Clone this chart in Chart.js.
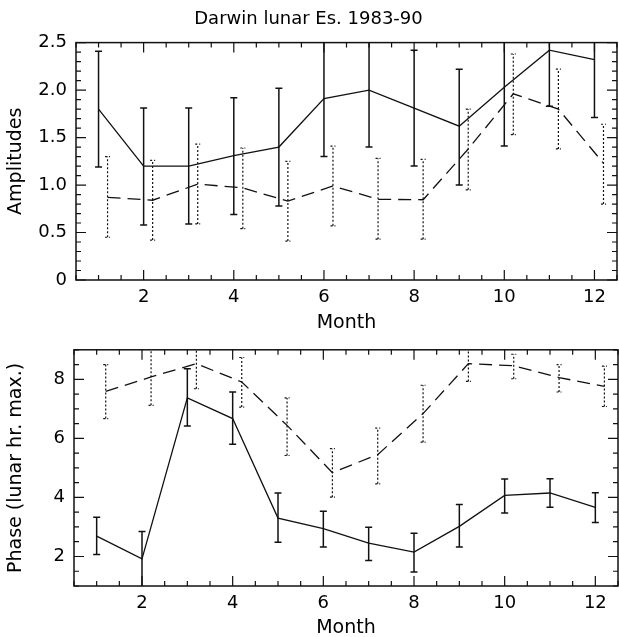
<!DOCTYPE html>
<html>
<head>
<meta charset="utf-8">
<script src="https://cdn.jsdelivr.net/npm/chart.js@4.4.1/dist/chart.umd.min.js"></script>
<style>
  body { margin: 0; background: #fff; }
  #wrap { position: relative; width: 619px; height: 637px; overflow: hidden; }
  #cAmp { position: absolute; left: 0; top: 0; }
  #cPhase { position: absolute; left: 0; top: 330px; }
</style>
</head>
<body>
<div id="wrap">
  <canvas id="cAmp" width="619" height="334"></canvas>
  <canvas id="cPhase" width="619" height="309"></canvas>
</div>
<script>
// meses (a serie tracejada fica deslocada 0.2 para a direita)
const months = [1, 2, 3, 4, 5, 6, 7, 8, 9, 10, 11, 12];
const monthsShift = [1.2, 2.2, 3.2, 4.2, 5.2, 6.2, 7.2, 8.2, 9.2, 10.2, 11.2, 12.2];

const xTickVals = [2, 4, 6, 8, 10, 12];
const xTickLabels = ['2', '4', '6', '8', '10', '12'];

// Amplitudes - linha cheia
const ampSolid   = [1.80, 1.20, 1.20, 1.31, 1.40, 1.91, 2.00, 1.81, 1.62, 2.03, 2.42, 2.32];
const ampSolidLo = [1.19, 0.58, 0.59, 0.69, 0.78, 1.30, 1.40, 1.20, 1.00, 1.41, 1.83, 1.71];
const ampSolidHi = [2.41, 1.81, 1.81, 1.92, 2.02, 2.52, 2.61, 2.42, 2.22, 2.64, 3.02, 2.93];

// Amplitudes - linha tracejada
const ampDash   = [0.87, 0.84, 1.01, 0.97, 0.83, 0.99, 0.85, 0.845, 1.38, 1.96, 1.80, 1.23];
const ampDashLo = [0.45, 0.42, 0.59, 0.54, 0.41, 0.57, 0.43, 0.43, 0.95, 1.53, 1.38, 0.80];
const ampDashHi = [1.30, 1.26, 1.43, 1.39, 1.25, 1.41, 1.28, 1.27, 1.80, 2.38, 2.22, 1.64];

const ampTickVals = [0, 0.5, 1.0, 1.5, 2.0, 2.5];
const ampTickLabels = ['0', '0.5', '1.0', '1.5', '2.0', '2.5'];

// Fase - linha cheia
const phaseSolid   = [2.69, 1.92, 7.37, 6.67, 3.30, 2.94, 2.45, 2.15, 3.02, 4.07, 4.15, 3.66];
const phaseSolidLo = [2.07, 0.95, 6.42, 5.80, 2.48, 2.32, 1.86, 1.47, 2.32, 3.47, 3.67, 3.15];
const phaseSolidHi = [3.33, 2.85, 8.36, 7.57, 4.15, 3.53, 2.99, 2.79, 3.76, 4.62, 4.63, 4.16];

// Fase - linha tracejada
const phaseDash   = [7.59, 8.08, 8.53, 7.91, 6.44, 4.84, 5.45, 6.84, 8.53, 8.46, 8.06, 7.76];
const phaseDashLo = [6.67, 7.12, 7.68, 7.06, 5.42, 4.01, 4.46, 5.87, 7.93, 8.02, 7.57, 7.08];
const phaseDashHi = [8.50, 9.04, 9.38, 8.74, 7.37, 5.65, 6.35, 7.80, 9.13, 8.85, 8.50, 8.45];

const phaseTickVals = [2, 4, 6, 8];
const phaseTickLabels = ['2', '4', '6', '8'];

Chart.defaults.font.family = "'DejaVu Sans', sans-serif";
Chart.defaults.color = '#000';

const INK = '#111';

function pontos(xs, ys) {
    return xs.map((x, i) => ({ x: x, y: ys[i] }));
}

// barras de erro desenhadas pelas escalas do grafico
const errorBarsPlugin = {
    id: 'errorBars',
    afterDatasetsDraw(chart) {
        const ctx = chart.ctx;
        const area = chart.chartArea;
        const xs = chart.scales.x;
        const ys = chart.scales.y;
        ctx.save();
        ctx.beginPath();
        ctx.rect(area.left, area.top, area.right - area.left, area.bottom - area.top);
        ctx.clip();
        chart.data.datasets.forEach(ds => {
            const dotted = ds.barStyle == 'dotted';
            ctx.strokeStyle = INK;
            ctx.lineWidth = dotted ? 1.2 : 1.5;
            ctx.setLineDash(dotted ? [2, 2] : []);
            const cap = dotted ? 2.5 : 3.5;
            ds.data.forEach((p, i) => {
                const px = xs.getPixelForValue(p.x);
                const yLo = ys.getPixelForValue(ds.lo[i]);
                const yHi = ys.getPixelForValue(ds.hi[i]);
                ctx.beginPath();
                ctx.moveTo(px, yLo);
                ctx.lineTo(px, yHi);
                ctx.moveTo(px - cap, yLo);
                ctx.lineTo(px + cap, yLo);
                ctx.moveTo(px - cap, yHi);
                ctx.lineTo(px + cap, yHi);
                ctx.stroke();
            });
        });
        ctx.restore();
    }
};

// moldura e ticks para dentro (estilo IDL)
const frameTicksPlugin = {
    id: 'frameTicks',
    afterDraw(chart, args, opts) {
        const ctx = chart.ctx;
        const a = chart.chartArea;
        const xs = chart.scales.x;
        const ys = chart.scales.y;
        ctx.save();
        ctx.strokeStyle = INK;
        ctx.lineWidth = 1.5;
        ctx.setLineDash([]);
        ctx.strokeRect(a.left, a.top, a.right - a.left, a.bottom - a.top);
        ctx.lineWidth = 1.2;
        ctx.beginPath();
        for (let v = opts.xMin; v <= opts.xMax + 1e-9; v += opts.xMinorStep) {
            const px = xs.getPixelForValue(v);
            const major = Math.abs(v / opts.xMajorStep - Math.round(v / opts.xMajorStep)) < 1e-6;
            const len = major ? 10 : 5;
            ctx.moveTo(px, a.bottom);
            ctx.lineTo(px, a.bottom - len);
            ctx.moveTo(px, a.top);
            ctx.lineTo(px, a.top + len);
        }
        for (let v = opts.yMin; v <= opts.yMax + 1e-9; v += opts.yMinorStep) {
            const py = ys.getPixelForValue(v);
            const major = Math.abs(v / opts.yMajorStep - Math.round(v / opts.yMajorStep)) < 1e-6;
            const len = major ? 10 : 5;
            ctx.moveTo(a.left, py);
            ctx.lineTo(a.left + len, py);
            ctx.moveTo(a.right, py);
            ctx.lineTo(a.right - len, py);
        }
        ctx.stroke();
        ctx.restore();
    }
};

function montarGrafico(canvasId, cfg) {
    return new Chart(document.getElementById(canvasId), {
        type: 'line',
        data: {
            datasets: [{
                data: pontos(months, cfg.solid),
                lo: cfg.solidLo,
                hi: cfg.solidHi,
                barStyle: 'solid',
                borderColor: INK,
                borderWidth: 1.3,
                pointRadius: 0,
                fill: false,
                tension: 0
            }, {
                data: pontos(monthsShift, cfg.dash),
                lo: cfg.dashLo,
                hi: cfg.dashHi,
                barStyle: 'dotted',
                borderColor: INK,
                borderWidth: 1.3,
                borderDash: [13, 7],
                pointRadius: 0,
                fill: false,
                tension: 0
            }]
        },
        options: {
            responsive: false,
            animation: false,
            layout: { padding: cfg.padding },
            scales: {
                x: {
                    type: 'linear',
                    min: 0.5,
                    max: 12.5,
                    afterFit: s => { s.height = cfg.xHeight; },
                    afterBuildTicks: s => { s.ticks = xTickVals.map(v => ({ value: v })); },
                    grid: { display: false, drawTicks: false },
                    border: { display: false },
                    ticks: {
                        padding: 7,
                        maxRotation: 0,
                        autoSkip: false,
                        font: { size: 18 },
                        callback: (v, i) => xTickLabels[i]
                    },
                    title: {
                        display: true,
                        text: 'Month',
                        font: { size: 19 },
                        padding: { top: 0, bottom: cfg.xTitlePad }
                    }
                },
                y: {
                    type: 'linear',
                    min: cfg.yMin,
                    max: cfg.yMax,
                    afterFit: s => { s.width = cfg.yWidth; },
                    afterBuildTicks: s => { s.ticks = cfg.yTickVals.map(v => ({ value: v })); },
                    grid: { display: false, drawTicks: false },
                    border: { display: false },
                    ticks: {
                        padding: 9,
                        autoSkip: false,
                        font: { size: 18 },
                        callback: (v, i) => cfg.yTickLabels[i]
                    },
                    title: {
                        display: true,
                        text: cfg.yTitle,
                        font: { size: 19 },
                        padding: { top: 5, bottom: 0 }
                    }
                }
            },
            plugins: {
                legend: { display: false },
                tooltip: { enabled: false },
                title: cfg.title ? {
                    display: true,
                    text: cfg.title,
                    color: '#000',
                    font: { size: 18, weight: 'normal' },
                    padding: { top: 9, bottom: 12 }
                } : { display: false },
                frameTicks: {
                    xMin: 0.5, xMax: 12.5, xMinorStep: 0.5, xMajorStep: 2,
                    yMin: cfg.yMin, yMax: cfg.yMax, yMinorStep: cfg.yMinorStep, yMajorStep: cfg.yMajorStep
                }
            }
        },
        plugins: [errorBarsPlugin, frameTicksPlugin]
    });
}

montarGrafico('cAmp', {
    solid: ampSolid, solidLo: ampSolidLo, solidHi: ampSolidHi,
    dash: ampDash, dashLo: ampDashLo, dashHi: ampDashHi,
    yMin: 0, yMax: 2.5, yMinorStep: 0.1, yMajorStep: 0.5,
    yTickVals: ampTickVals, yTickLabels: ampTickLabels,
    yTitle: 'Amplitudes',
    title: 'Darwin lunar Es. 1983-90',
    padding: { left: 0, right: 2, top: 0, bottom: 0 },
    yWidth: 76, xHeight: 54, xTitlePad: 0
});

montarGrafico('cPhase', {
    solid: phaseSolid, solidLo: phaseSolidLo, solidHi: phaseSolidHi,
    dash: phaseDash, dashLo: phaseDashLo, dashHi: phaseDashHi,
    yMin: 1, yMax: 9, yMinorStep: 0.5, yMajorStep: 2,
    yTickVals: phaseTickVals, yTickLabels: phaseTickLabels,
    yTitle: 'Phase (lunar hr. max.)',
    title: null,
    padding: { left: 0, right: 1, top: 19, bottom: 0 },
    yWidth: 74, xHeight: 53, xTitlePad: 0
});
</script>
</body>
</html>
